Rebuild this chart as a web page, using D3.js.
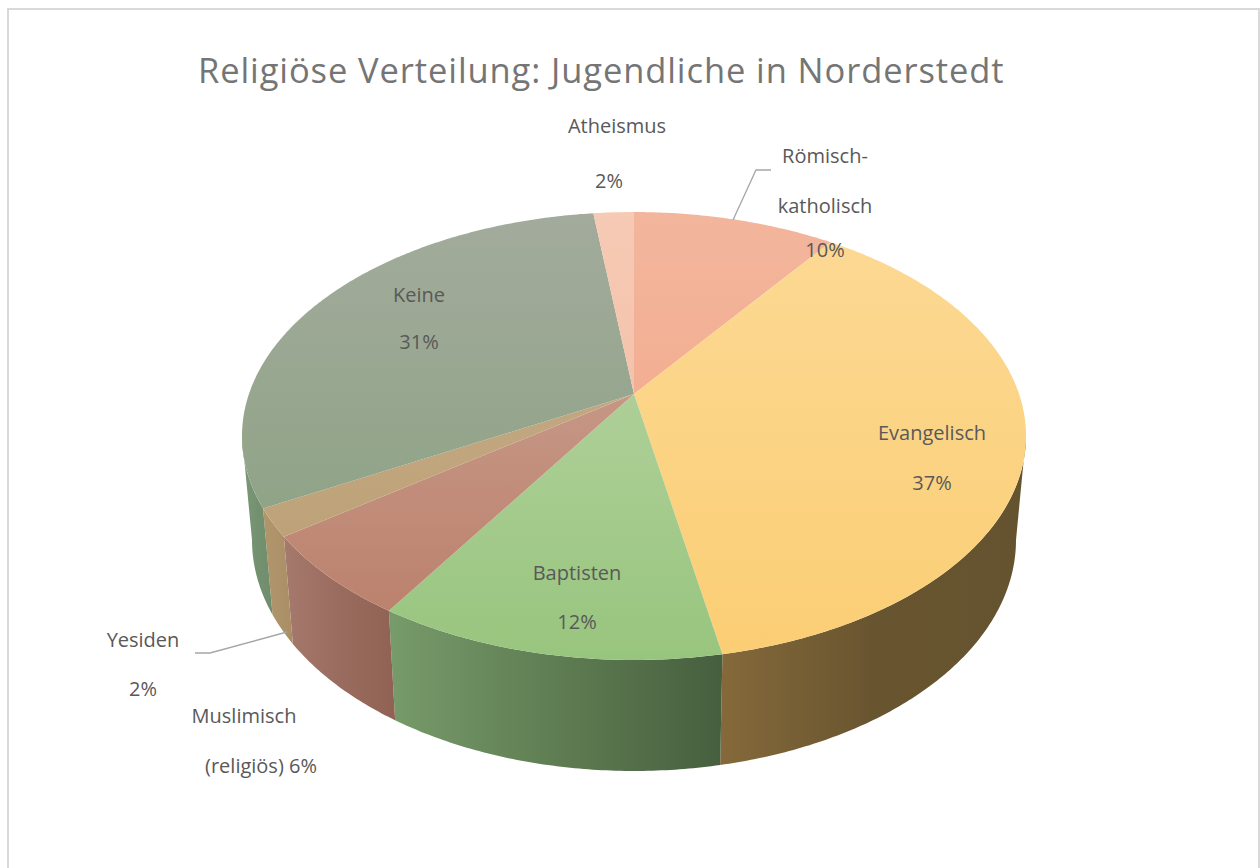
<!DOCTYPE html>
<html>
<head>
<meta charset="utf-8">
<script src="https://cdnjs.cloudflare.com/ajax/libs/d3/7.8.5/d3.min.js"></script>
<style>
    html, body { margin: 0; padding: 0; background: #fff; overflow: hidden; }
    text { font-family: "Open Sans", sans-serif; }
</style>
</head>
<body>
<div id="chart"></div>
<script>
// Data
const titleText = "Religiöse Verteilung: Jugendliche in Norderstedt";
const categories = ["Römisch-katholisch", "Evangelisch", "Baptisten", "Muslimisch (religiös)", "Yesiden", "Keine", "Atheismus"];
const shares = [10, 37, 12, 6, 2, 31, 2];

// Label text, one entry per line, same order as categories
const labelLines = [
    ["Römisch-", "katholisch", "10%"],
    ["Evangelisch", "37%"],
    ["Baptisten", "12%"],
    ["Muslimisch", "(religiös) 6%"],
    ["Yesiden", "2%"],
    ["Keine", "31%"],
    ["Atheismus", "2%"]
];

// Colours: top face (upper, lower) and side wall (left, middle, right)
const topColors = [
    ["#f2b69d", "#f5a383"], ["#fcd995", "#fbce74"], ["#bdd6aa", "#98c57e"], ["#cfa899", "#b97d68"],
    ["#c6b08e", "#bb9c70"], ["#a3ab9c", "#86a07d"], ["#f6cab5", "#f3b69b"]
];
const sideColors = [
    ["#85693a", "#6a5631", "#65532f"], ["#85693a", "#685530", "#65532f"], ["#779b6b", "#5f7d52", "#465f3f"], ["#a6796d", "#9a6c5f", "#8f6253"],
    ["#b1966c", "#ae9269", "#a98d63"], ["#7a977a", "#74916f", "#6f8c6c"], ["#f3b69b", "#f3b69b", "#f3b69b"]
];

// Layout of the labels and leader lines (x centre, first baseline, line baselines)
const labelPlace = [
    { x: 825, y: [163, 213, 257] },
    { x: 932, y: [440, 490] },
    { x: 577, y: [580, 629] },
    { x: [244, 261], y: [723, 773] },
    { x: 143, y: [647, 696] },
    { x: 419, y: [302, 349] },
    { x: [617, 609], y: [133, 188] }
];
const leaders = [
    [[771, 170], [756, 170], [733, 220]],
    [[195, 653], [210, 653], [287, 632]]
];

const width = 1260;
const height = 868;

const svg = d3.select("#chart").append("svg")
    .attr("width", width)
    .attr("height", height);

// Chart frame
svg.append("rect")
    .attr("x", 8).attr("y", 9)
    .attr("width", 1251).attr("height", 880)
    .attr("fill", "#fff")
    .attr("stroke", "#d9d9d9")
    .attr("stroke-width", 2);

// Title
svg.append("text")
    .attr("x", 198).attr("y", 83)
    .attr("font-size", 34.5)
    .attr("letter-spacing", 0.9)
    .attr("fill", "#757575")
    .text(titleText);

// Perspective of the disc: the apex sits above the centre of the visible ellipse
const apex = { x: 634, y: 394 };
const persp = 0.1875;
const radiusX = 392 * Math.sqrt(1 - persp * persp);
const radiusY = 216.1;

function rimPoint(angle) {
    const u = Math.sin(angle);
    const v = -Math.cos(angle);
    const k = 1 - persp * v;
    return [apex.x + radiusX * u / k, apex.y + radiusY * v / k];
}

// Bottom rim is the top ellipse moved and rescaled
const lowerX = d3.scaleLinear().domain([242, 1026]).range([252, 1016]);
const lowerY = d3.scaleLinear().domain([212, 660]).range([309, 771]);
const lowerPoint = p => [lowerX(p[0]), lowerY(p[1])];

const pieData = d3.pie().sort(null).value(d => d)(shares);
const line = d3.line();
const defs = svg.append("defs");

function arcPoints(a0, a1) {
    const n = Math.max(2, Math.ceil((a1 - a0) / 0.01));
    return d3.range(n + 1).map(i => rimPoint(a0 + (a1 - a0) * i / n));
}

// Only the front part of the side wall shows, between the two widest points of the ellipse
const wallFrom = Math.acos(-persp);
const wallTo = 2 * Math.PI - wallFrom;

pieData.forEach((d, i) => {
    const a0 = Math.max(d.startAngle, wallFrom);
    const a1 = Math.min(d.endAngle, wallTo);
    if (a1 <= a0) return;
    const upper = arcPoints(a0, a1);
    const lower = upper.map(lowerPoint).reverse();
    const xs = d3.extent(upper.concat(lower), p => p[0]);

    const grad = defs.append("linearGradient")
        .attr("id", `side${i}`)
        .attr("gradientUnits", "userSpaceOnUse")
        .attr("x1", xs[0]).attr("x2", xs[1])
        .attr("y1", 0).attr("y2", 0);
    sideColors[i].forEach((c, j) => {
        grad.append("stop").attr("offset", j / 2).attr("stop-color", c);
    });

    svg.append("path")
        .attr("d", line(upper.concat(lower)) + "Z")
        .attr("fill", `url(#side${i})`);
});

// Top face of every slice, one vertical gradient across the whole disc
pieData.forEach((d, i) => {
    const grad = defs.append("linearGradient")
        .attr("id", `top${i}`)
        .attr("gradientUnits", "userSpaceOnUse")
        .attr("x1", 0).attr("x2", 0)
        .attr("y1", 212).attr("y2", 660);
    topColors[i].forEach((c, j) => {
        grad.append("stop").attr("offset", j).attr("stop-color", c);
    });

    const pts = [[apex.x, apex.y]].concat(arcPoints(d.startAngle, d.endAngle));
    svg.append("path")
        .attr("d", line(pts) + "Z")
        .attr("fill", `url(#top${i})`);
});

// Leader lines
leaders.forEach(pts => {
    svg.append("path")
        .attr("d", line(pts))
        .attr("fill", "none")
        .attr("stroke", "#a6a6a6")
        .attr("stroke-width", 1.3);
});

// Data labels
labelLines.forEach((lines, i) => {
    const place = labelPlace[i];
    lines.forEach((txt, j) => {
        svg.append("text")
            .attr("x", Array.isArray(place.x) ? place.x[j] : place.x)
            .attr("y", place.y[j])
            .attr("text-anchor", "middle")
            .attr("font-size", 20)
            .attr("fill", "#595959")
            .text(txt);
    });
});
</script>
</body>
</html>
